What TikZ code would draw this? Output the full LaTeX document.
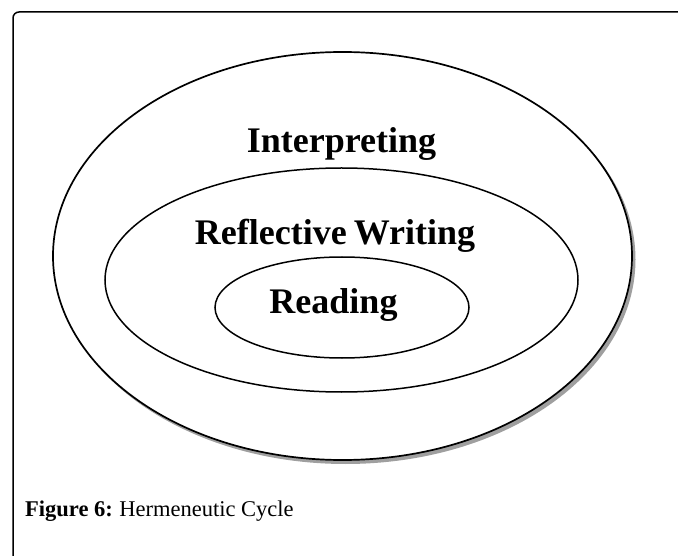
\documentclass[tikz,border=0pt]{standalone}
\usepackage{fontspec}
\setmainfont{Liberation Serif}
\usetikzlibrary{shapes.geometric}
\begin{document}
\begin{tikzpicture}[x=1pt,y=-1pt,
  ring/.style={ellipse, draw=black, line width=1.5pt, inner sep=0pt, outer sep=0pt},
  lbl/.style={font=\fontsize{36}{40}\selectfont\bfseries, inner sep=0pt, anchor=base},
  frameline/.style={line width=1.5pt, rounded corners=6pt}]
\useasboundingbox (0,0) rectangle (678,556);
\draw[frameline] (13,560) -- (13,12) -- (682,12);
% shadow of outer ellipse
\fill[gray!75] (345.5,259.5) ellipse [x radius=290, y radius=204.5];
\node[ring, fill=white, line width=1.7pt, minimum width=579pt, minimum height=408pt] (outer) at (342.5,256) {};
\node[ring, minimum width=473pt, minimum height=224pt] (middle) at (341.5,280) {};
\node[ring, minimum width=254pt, minimum height=101pt] (inner) at (342,307.5) {};
\node[lbl] (interp) at (341.5,153) {Interpreting};
\node[lbl] (refl) at (335,245) {Reflective\hspace{-2pt} Writing};
\node[lbl] (read) at (333.5,314) {Reading};
\node[anchor=base west, inner sep=0pt, font=\fontsize{22.5}{26}\selectfont] (cap) at (25,516) {\textbf{Figure 6:}\hspace{-1pt} Hermeneutic Cycle};
\end{tikzpicture}
\end{document}
